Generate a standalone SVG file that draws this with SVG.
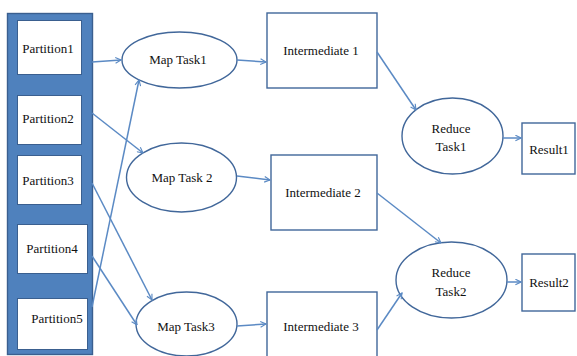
<svg xmlns="http://www.w3.org/2000/svg" width="577" height="356" viewBox="0 0 577 356" font-family="'Liberation Serif', serif">
  <style>
    .box { fill: #ffffff; stroke: #41679a; stroke-width: 1.4; }
    .pbox { fill: #ffffff; stroke: #3a5f8f; stroke-width: 1; }
    .panel { fill: #4f81bd; stroke: #3a5f8f; stroke-width: 1.4; }
    .lbl { font-family: 'Liberation Serif', 'Times New Roman', serif; font-size: 13px; fill: #111111; text-anchor: middle; }
    .edge { fill: none; stroke: #5b8ac4; stroke-width: 1.5; marker-end: url(#arrow); }
  </style>
  <defs>
    <marker id="arrow" viewBox="0 0 10 10" refX="9" refY="5" markerWidth="7" markerHeight="7" markerUnits="userSpaceOnUse" orient="auto">
      <path d="M1,1 L9,5 L1,9" fill="none" stroke="#5b8ac4" stroke-width="1.6"/>
    </marker>
  </defs>
  <rect width="577" height="356" fill="#ffffff"/>

  <!-- input partitions -->
  <g id="partitions">
    <rect class="panel" x="7.5" y="13.5" width="85" height="341"/>
    <g id="partition1">
      <rect class="pbox" x="17.5" y="20.5" width="64" height="54"/>
      <text class="lbl" x="48" y="53">Partition1</text>
    </g>
    <g id="partition2">
      <rect class="pbox" x="17.5" y="95.5" width="64" height="49"/>
      <text class="lbl" x="48" y="123">Partition2</text>
    </g>
    <g id="partition3">
      <rect class="pbox" x="17.5" y="155.5" width="64" height="49"/>
      <text class="lbl" x="48" y="185">Partition3</text>
    </g>
    <g id="partition4">
      <rect class="pbox" x="17.5" y="224.5" width="70" height="49"/>
      <text class="lbl" x="52" y="253">Partition4</text>
    </g>
    <g id="partition5">
      <rect class="pbox" x="17.5" y="298.5" width="70" height="51"/>
      <text class="lbl" x="57" y="323" font-size="12">Partition5</text>
    </g>
  </g>

  <!-- map tasks -->
  <g id="map1">
    <ellipse class="box" cx="179.5" cy="60" rx="57.5" ry="28"/>
    <text class="lbl" x="178" y="64" font-size="12">Map Task1</text>
  </g>
  <g id="map2">
    <ellipse class="box" cx="181.5" cy="177.5" rx="55" ry="34.5"/>
    <text class="lbl" x="182" y="182" font-size="12">Map Task 2</text>
  </g>
  <g id="map3">
    <ellipse class="box" cx="186.5" cy="324" rx="50.5" ry="32"/>
    <text class="lbl" x="186" y="331" font-size="12">Map Task3</text>
  </g>

  <!-- intermediate outputs -->
  <g id="inter1">
    <rect class="box" x="267" y="13" width="110" height="75"/>
    <text class="lbl" x="321" y="55">Intermediate 1</text>
  </g>
  <g id="inter2">
    <rect class="box" x="271" y="155" width="106" height="75"/>
    <text class="lbl" x="323" y="197">Intermediate 2</text>
  </g>
  <g id="inter3">
    <rect class="box" x="267" y="292" width="110" height="66"/>
    <text class="lbl" x="321" y="331">Intermediate 3</text>
  </g>

  <!-- reduce tasks -->
  <g id="reduce1">
    <ellipse class="box" cx="452.5" cy="136" rx="50.5" ry="38"/>
    <text class="lbl" x="451" y="133">Reduce</text>
    <text class="lbl" x="451" y="151">Task1</text>
  </g>
  <g id="reduce2">
    <ellipse class="box" cx="451.5" cy="280" rx="55.5" ry="38"/>
    <text class="lbl" x="451" y="277">Reduce</text>
    <text class="lbl" x="451" y="296">Task2</text>
  </g>

  <!-- results -->
  <g id="result1">
    <rect class="box" x="522" y="123" width="53" height="51"/>
    <text class="lbl" x="549" y="154">Result1</text>
  </g>
  <g id="result2">
    <rect class="box" x="522" y="254" width="53" height="57"/>
    <text class="lbl" x="549" y="287">Result2</text>
  </g>

  <!-- connectors -->
  <g id="edges">
    <path class="edge" d="M92,62 L121,60"/>
    <path class="edge" d="M92,113 L143,153"/>
    <path class="edge" d="M92,307 L139,80"/>
    <path class="edge" d="M92,183 L152,300"/>
    <path class="edge" d="M92,256 L137,325"/>
    <path class="edge" d="M237,60 L266,62"/>
    <path class="edge" d="M237,176 L270,180"/>
    <path class="edge" d="M237,326 L266,324"/>
    <path class="edge" d="M377,52 L416,110"/>
    <path class="edge" d="M377,193 L441,243"/>
    <path class="edge" d="M377,330 L402,293"/>
    <path class="edge" d="M503,138 L521,138"/>
    <path class="edge" d="M507,282 L521,282"/>
  </g>
</svg>
